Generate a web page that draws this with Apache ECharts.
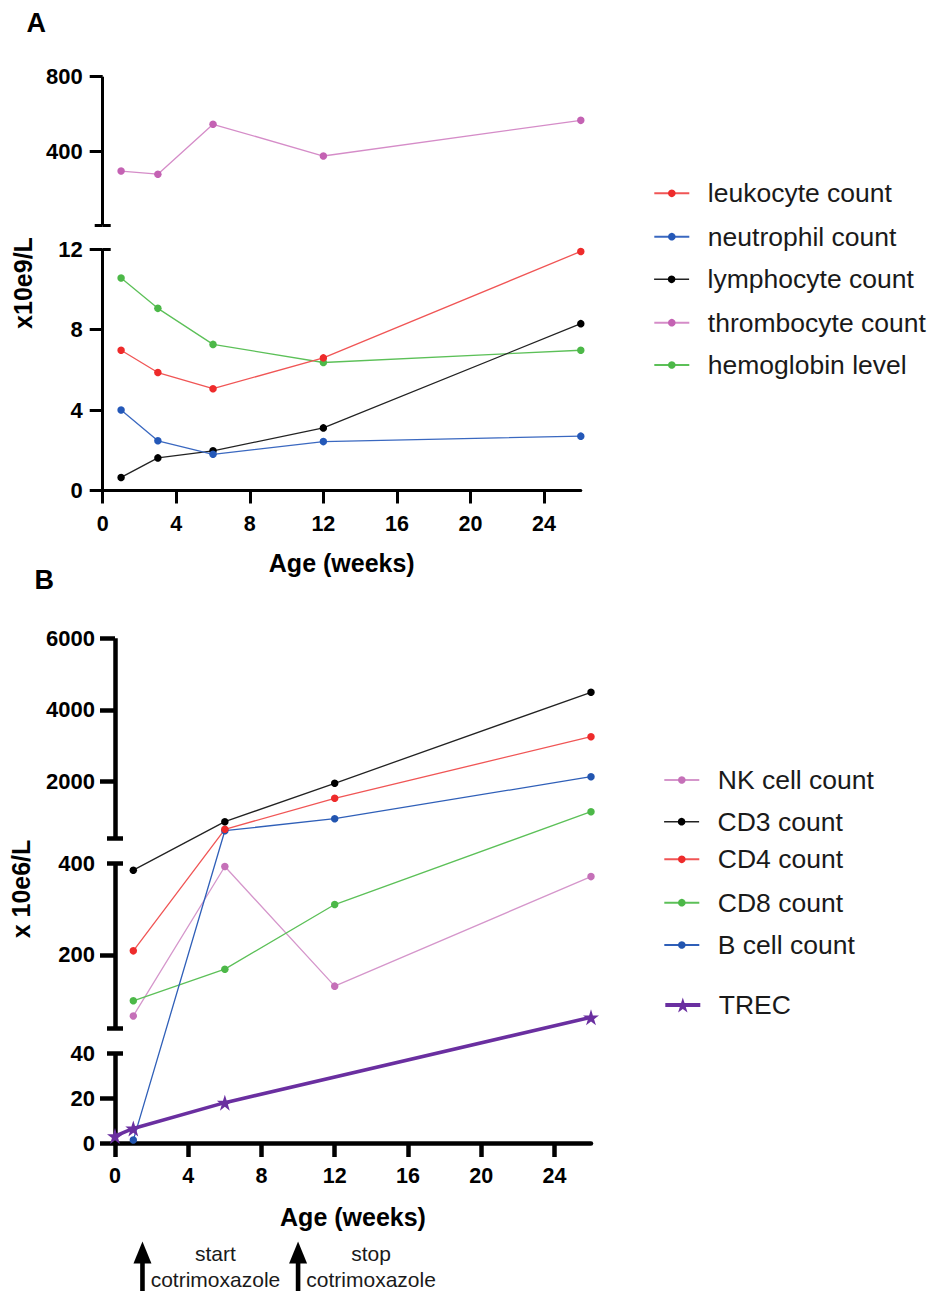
<!DOCTYPE html>
<html><head><meta charset="utf-8">
<script src="https://cdn.jsdelivr.net/npm/echarts@6/dist/echarts.min.js"></script>
<style>html,body{margin:0;padding:0;background:#fff}#c{width:938px;height:1291px}</style>
</head><body><div id="c"></div>
<script>
// ---------- data: panel A (x10e9/L) ----------
const weeksA = [1, 3, 6, 12, 26];
const leukocyte = [6.97, 5.86, 5.06, 6.59, 11.88];
const neutrophil = [4.0, 2.47, 1.80, 2.43, 2.70];
const lymphocyte = [0.65, 1.62, 1.97, 3.11, 8.29];
const thrombocyte = [292, 275, 544, 373, 565];
const hemoglobin = [10.56, 9.05, 7.26, 6.36, 6.97];
// ---------- data: panel B (x 10e6/L) ----------
const weeksB = [1, 6, 12, 26];
const nkCell = [67, 393, 132, 371];
const cd3 = [385, 870, 1944, 4490];
const cd4 = [209, 657, 1524, 3248];
const cd8 = [100, 169, 310, 1150];
const bCell = [1.3, 618, 954, 2129];
const trecWeeks = [0, 1, 6, 26];
const trec = [3.1, 6.5, 18, 64];
// ---------- tick labels ----------
const xTicks = [0, 4, 8, 12, 16, 20, 24];
const yTicksATop = [400, 800];
const yTicksABot = [0, 4, 8, 12];
const yTicksBTop = [2000, 4000, 6000];
const yTicksBMid = [200, 400];
const yTicksBBot = [0, 20, 40];
const events = [{week: 1.5, l1: 'start', l2: 'cotrimoxazole'}, {week: 10, l1: 'stop', l2: 'cotrimoxazole'}];

// ---------- layout ----------
const FONT = "'Liberation Sans', Arial, Helvetica, sans-serif";
const STAR = 'path://M50,0 L61.2,34.5 L97.6,34.5 L68.2,55.9 L79.4,90.5 L50,69.1 L20.6,90.5 L31.8,55.9 L2.4,34.5 L38.8,34.5 Z';
const LA = 102.7, WA = 478.1;
const A_TOP = [76.7, 225.3], A_BOT = [249, 490.5];
const LB = 115, WB = 476;
// broken-axis segments of panel B: value range + pixel range (bottom, top)
const segB = [
  {lo: 0, hi: 40, yLo: 1143, yHi: 1053.3},
  {lo: 40, hi: 400, yLo: 1028.3, yHi: 863.3},
  {lo: 400, hi: 6000, yLo: 838.5, yHi: 638.3}
];
const B_BOTTOM = 1143, B_TOPPX = 638.3;
function mapB(v) {
  for (const s of segB) {
    if (v >= s.lo && v <= s.hi) {
      const pix = s.yLo - (v - s.lo) / (s.hi - s.lo) * (s.yLo - s.yHi);
      return B_BOTTOM - pix;
    }
  }
  return null;
}

function segAxes(grid, min, max, o) {
  const base = {type: 'value', gridIndex: grid, min: min, max: max, position: 'left', offset: 0,
    splitLine: {show: false}, axisPointer: {show: false}};
  const ls = {color: '#000', width: o.lw, cap: 'butt'};
  return [
    Object.assign({}, base, {
      axisLine: {show: true, onZero: false, lineStyle: ls},
      axisTick: {show: o.ticks.length > 0, customValues: o.ticks, length: o.tickLen, lineStyle: ls},
      axisLabel: {show: true, customValues: o.labels, margin: 20, fontSize: 22, fontWeight: 'bold',
        color: '#000', fontFamily: FONT, formatter: v => String(v)}
    }),
    Object.assign({}, base, {
      axisLine: {show: false},
      axisTick: {show: o.caps.length > 0, customValues: o.caps.length ? o.caps : [min], length: o.capLen, lineStyle: ls},
      axisLabel: {show: false}
    }),
    Object.assign({}, base, {
      axisLine: {show: false},
      axisTick: {show: o.capsIn.length > 0, inside: true, customValues: o.capsIn.length ? o.capsIn : [min], length: o.capLen, lineStyle: ls},
      axisLabel: {show: false}
    })
  ];
}

function visXAxis(grid, lw, tickLen, margin, nameGap) {
  const ls = {color: '#000', width: lw};
  return {type: 'value', gridIndex: grid, min: 0, max: 26,
    splitLine: {show: false},
    axisLine: {show: true, onZero: false, lineStyle: ls},
    axisTick: {show: true, customValues: xTicks, length: tickLen, lineStyle: ls},
    axisLabel: {show: true, customValues: xTicks, margin: margin, fontSize: 21.5, fontWeight: 'bold',
      color: '#000', fontFamily: FONT, formatter: v => String(v)},
    name: 'Age (weeks)', nameLocation: 'middle', nameGap: nameGap,
    nameTextStyle: {fontSize: 25, fontWeight: 'bold', color: '#000', fontFamily: FONT}};
}
function hidXAxis(grid) {
  return {type: 'value', gridIndex: grid, min: 0, max: 26, show: false};
}

const yAxes = [].concat(
  segAxes(0, 0, 800, {lw: 3, tickLen: 13, capLen: 8, ticks: yTicksATop, labels: yTicksATop, caps: [0], capsIn: [0]}),
  segAxes(1, 0, 12, {lw: 3, tickLen: 13, capLen: 8, ticks: yTicksABot, labels: yTicksABot, caps: [], capsIn: [12]}),
  [{type: 'value', gridIndex: 2, min: 0, max: B_BOTTOM - B_TOPPX, show: false}],
  segAxes(3, 400, 6000, {lw: 4.5, tickLen: 15, capLen: 8, ticks: yTicksBTop, labels: yTicksBTop, caps: [400], capsIn: [400]}),
  segAxes(4, 40, 400, {lw: 4.5, tickLen: 15, capLen: 8, ticks: [200], labels: yTicksBMid, caps: [40, 400], capsIn: [40, 400]}),
  segAxes(5, 0, 40, {lw: 4.5, tickLen: 15, capLen: 8, ticks: [0, 20], labels: yTicksBBot, caps: [40], capsIn: [40]})
);

function pairs(xs, ys, f) { return xs.map((x, i) => [x, f ? f(ys[i]) : ys[i]]); }
function lineSeries(name, xi, yi, data, dot, line, extra) {
  return Object.assign({
    name: name, type: 'line', xAxisIndex: xi, yAxisIndex: yi, data: data,
    symbol: 'circle', symbolSize: 7.5, clip: false, silent: true,
    itemStyle: {color: dot}, lineStyle: {color: line, width: 1.3}, emphasis: {disabled: true}
  }, extra || {});
}

const series = [
  lineSeries('thrombocyte count', 0, 0, pairs(weeksA, thrombocyte), '#C462B3', '#D58CC8'),
  lineSeries('hemoglobin level', 1, 3, pairs(weeksA, hemoglobin), '#4CB848', '#5CC058'),
  lineSeries('lymphocyte count', 1, 3, pairs(weeksA, lymphocyte), '#000000', '#222222'),
  lineSeries('neutrophil count', 1, 3, pairs(weeksA, neutrophil), '#2458B8', '#3A68C0'),
  lineSeries('leukocyte count', 1, 3, pairs(weeksA, leukocyte), '#EE2B2B', '#F05555'),
  lineSeries('NK cell count', 2, 6, pairs(weeksB, nkCell, mapB), '#C570B8', '#D596CB'),
  lineSeries('CD8 count', 2, 6, pairs(weeksB, cd8, mapB), '#4CB848', '#5CC058'),
  lineSeries('B cell count', 2, 6, pairs(weeksB, bCell, mapB), '#2255B0', '#2F5FB8'),
  lineSeries('CD4 count', 2, 6, pairs(weeksB, cd4, mapB), '#EE2B2B', '#F05555'),
  lineSeries('CD3 count', 2, 6, pairs(weeksB, cd3, mapB), '#000000', '#222222'),
  lineSeries('TREC', 2, 6, pairs(trecWeeks, trec, mapB), '#6A2FA0', '#6A2FA0',
    {symbol: STAR, symbolSize: 16, lineStyle: {color: '#6A2FA0', width: 3.6}})
];

function leg(name, left, cy, ih, lw) {
  const h = Math.max(ih, 27);
  const o = {data: [name], left: left, top: cy - h / 2, padding: 0, itemWidth: 35, itemHeight: ih,
    selectedMode: false, orient: 'horizontal',
    textStyle: {fontSize: 26.5, fontFamily: FONT, color: '#1a1a1a', lineHeight: 27, padding: [0, 0, 0, 13.5]}};
  if (lw) o.lineStyle = {width: lw};
  return o;
}
const legends = [
  leg('leukocyte count', 653.3, 193.3, 9.5, 2),
  leg('neutrophil count', 653.3, 236.7, 9.5, 2),
  leg('lymphocyte count', 653.3, 279.3, 9.5, 1.6),
  leg('thrombocyte count', 653.3, 322.7, 9.5, 2),
  leg('hemoglobin level', 653.3, 365, 9.5, 2),
  leg('NK cell count', 663.3, 780, 9.5, 2),
  leg('CD3 count', 663.3, 821.7, 9.5, 1.6),
  leg('CD4 count', 663.3, 859.3, 9.5, 2),
  leg('CD8 count', 663.3, 902.7, 9.5, 2),
  leg('B cell count', 663.3, 945, 9.5, 2),
  leg('TREC', 663.3, 1005, 19, 4)
];

const chart = echarts.init(document.getElementById('c'), null, {renderer: 'svg', width: 938, height: 1291});
chart.setOption({
  animation: false,
  backgroundColor: '#ffffff',
  textStyle: {fontFamily: FONT},
  grid: [
    {left: LA, top: A_TOP[0], width: WA, height: A_TOP[1] - A_TOP[0], outerBoundsMode: 'none'},
    {left: LA, top: A_BOT[0], width: WA, height: A_BOT[1] - A_BOT[0], outerBoundsMode: 'none'},
    {left: LB, top: B_TOPPX, width: WB, height: B_BOTTOM - B_TOPPX, outerBoundsMode: 'none'},
    {left: LB, top: segB[2].yHi, width: WB, height: segB[2].yLo - segB[2].yHi, outerBoundsMode: 'none'},
    {left: LB, top: segB[1].yHi, width: WB, height: segB[1].yLo - segB[1].yHi, outerBoundsMode: 'none'},
    {left: LB, top: segB[0].yHi, width: WB, height: segB[0].yLo - segB[0].yHi, outerBoundsMode: 'none'}
  ],
  xAxis: [hidXAxis(0), visXAxis(1, 3, 13, 22, 60), visXAxis(2, 4.5, 14, 21.5, 61), hidXAxis(3), hidXAxis(4), hidXAxis(5)],
  yAxis: yAxes,
  legend: legends,
  series: series
});

// annotations and panel labels
const g = [
  {type: 'text', left: 26.5, top: 9, style: {text: 'A', font: "bold 27px " + FONT, fill: '#000'}},
  {type: 'text', left: 34.5, top: 566, style: {text: 'B', font: "bold 27px " + FONT, fill: '#000'}},
  {type: 'text', x: 22.5, y: 283, rotation: Math.PI / 2,
    style: {text: 'x10e9/L', font: "bold 25px " + FONT, fill: '#000', align: 'center', verticalAlign: 'middle'}},
  {type: 'text', x: 21, y: 889, rotation: Math.PI / 2,
    style: {text: 'x 10e6/L', font: "bold 25px " + FONT, fill: '#000', align: 'center', verticalAlign: 'middle'}}
];
events.forEach(ev => {
  const x = chart.convertToPixel({xAxisIndex: 2}, ev.week);
  g.push({type: 'polygon', shape: {points: [[x - 9, 1263.5], [x + 9, 1263.5], [x, 1241.5]]}, style: {fill: '#000'}});
  g.push({type: 'rect', shape: {x: x - 2.3, y: 1262, width: 4.6, height: 30}, style: {fill: '#000'}});
  g.push({type: 'text', x: x + 73, y: 1253.5, style: {text: ev.l1, font: "21px " + FONT, fill: '#1a1a1a', align: 'center', verticalAlign: 'middle'}});
  g.push({type: 'text', x: x + 73, y: 1279.5, style: {text: ev.l2, font: "21px " + FONT, fill: '#1a1a1a', align: 'center', verticalAlign: 'middle'}});
});
chart.setOption({graphic: g});
</script>
</body></html>
